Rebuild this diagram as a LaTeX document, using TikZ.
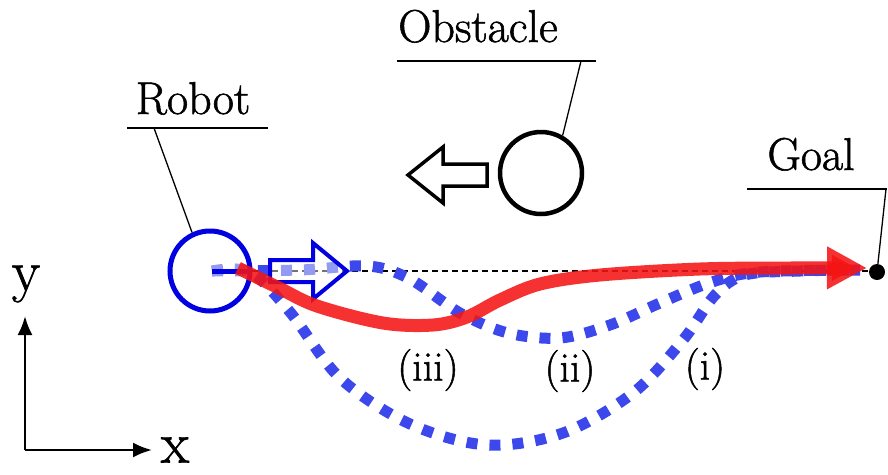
\documentclass[tikz,border=0pt]{standalone}
\usepackage{fontspec}
\newfontfamily\lblfont{Latin Modern Roman}[FakeBold=1.2]
\usetikzlibrary{arrows.meta}
\definecolor{dotblue}{RGB}{60,72,235}
\definecolor{robblue}{RGB}{0,0,225}
\definecolor{pathred}{RGB}{245,20,20}
\tikzset{
  lbl/.style={font=\lblfont\fontsize{46pt}{50pt}\selectfont, inner sep=0pt, anchor=base},
  plbl/.style={font=\lblfont\fontsize{42pt}{46pt}\selectfont, inner sep=0pt},
  axlbl/.style={font=\lblfont\fontsize{58pt}{60pt}\selectfont, inner sep=0pt},
  leader/.style={black, line width=1.3pt},
  dotpath/.style={dotblue, line width=11pt, dash pattern=on 11pt off 12pt, line cap=butt},
  redpath/.style={pathred, opacity=0.88, line width=13pt, line cap=butt},
  axis/.style={black, line width=2.5pt, -{Latex[length=19pt,width=15pt]}},
}
\begin{document}
\begin{tikzpicture}[x=1pt,y=-1pt]
\useasboundingbox (0,0) rectangle (888,474);
% key points
\coordinate (rc) at (212,271);
\coordinate (gl) at (877,271);
% dashed reference line
\draw[black, line width=1.3pt, dash pattern=on 6pt off 4pt] (rc) -- (gl);
% blue dotted paths (i) and (ii)
\draw[dotpath] plot[smooth, tension=0.55] coordinates {(212,271) (250,272) (290,312) (340,378) (410,424) (487,445) (563,433) (633,393) (683,340) (715,295) (745,275) (800,271) (860,270)};
\draw[dotpath] plot[smooth, tension=0.55] coordinates {(212,271) (300,270) (368,266) (410,279) (460,313) (508,333) (560,338) (610,325) (660,303) (712,282) (760,272) (860,270)};
% robot
\node[circle, minimum size=80pt, draw=robblue, line width=5pt, fill=white, fill opacity=0.45, inner sep=0pt] (robot) at (210,271) {};
\draw[robblue, line width=5pt] (rc) -- (248,271);
\draw[robblue, line width=4pt, fill=white, fill opacity=0.45, line join=miter]
  (270,260) -- (313,260) -- (313,243) -- (347,271) -- (313,299) -- (313,282) -- (270,282) -- cycle;
% obstacle
\node[circle, minimum size=82pt, draw=black, line width=4.5pt, inner sep=0pt] (obst) at (541,173) {};
\draw[black, line width=3.5pt, fill=white, line join=miter]
  (487,164) -- (443,164) -- (443,147) -- (408,175) -- (443,203) -- (443,186) -- (487,186) -- cycle;
% red path (iii)
\draw[redpath, -{Triangle[length=40pt,width=40pt]}] plot[smooth, tension=0.55] coordinates {(238,268) (277,287) (317,306) (383,323) (433,325) (467,317) (500,300) (540,284) (600,275) (700,269) (790,268) (867,268)};
% goal
\node[circle, fill=black, minimum size=16pt, inner sep=0pt] (goal) at (877,272) {};
% labels
\node[lbl] (obstlbl) at (478,42) {Obstacle};
\draw[leader] (397,61) -- (596,61);
\coordinate (ol) at (581,61);
\draw[leader] (ol) -- (obst.60);
\node[lbl] (robotlbl) at (193,114) {Robot};
\draw[leader] (127,128) -- (268,128);
\coordinate (rl) at (154,128);
\draw[leader] (rl) -- (robot.115);
\node[lbl] (goallbl) at (811,170) {Goal};
\draw[leader] (747,189) -- (887,189);
\coordinate (gll) at (886,189);
\draw[leader] (gll) -- (goal);
% path labels
\node[plbl] (l3) at (428,370) {(iii)};
\node[plbl] (l2) at (570,371) {(ii)};
\node[plbl] (l1) at (705,369) {(i)};
% axes
\coordinate (org) at (25,450);
\coordinate (xe) at (152,450);
\coordinate (ye) at (25,316);
\draw[axis] (org) -- (xe);
\draw[axis] (org) -- (ye);
\node[axlbl] (xl) at (175,450) {x};
\node[axlbl] (yl) at (26,284) {y};
\end{tikzpicture}
\end{document}
